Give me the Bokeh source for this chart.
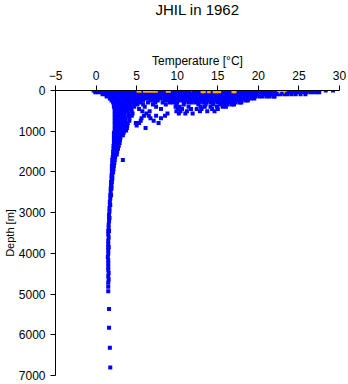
from bokeh.plotting import figure
from bokeh.models import Range1d, FixedTicker, Title
from bokeh.embed import file_html
from bokeh.resources import INLINE

# ---- data ----
title_text = "JHIL in 1962"
x_ticks = [-5, 0, 5, 10, 15, 20, 25, 30]
y_ticks = [0, 1000, 2000, 3000, 4000, 5000, 6000, 7000]

# depth (m) of each row of observations
row_depths = [0, 45, 95, 145, 195, 245, 295, 345, 400, 455, 510, 565, 620, 680,
              740, 800, 860, 920, 980, 1040, 1100, 1160, 1220, 1290, 1360, 1430,
              1500, 1570, 1640, 1710, 1780, 1850, 1930, 2010, 2090, 2170, 2250,
              2330, 2410, 2490, 2570, 2650, 2730, 2810, 2890, 2970, 3050, 3130,
              3210, 3290, 3370, 3450, 3530, 3610, 3690, 3770, 3850, 3930, 4010,
              4090, 4170, 4250, 4330, 4400, 4480, 4560, 4640, 4720, 4820, 4930,
              5365, 5830, 6320, 6805]

# temperatures (°C) observed at each depth row (blue points)
row_temps = [
    [-0.3, 0.1, 0.5, 0.9, 1.4, 1.8, 2.3, 2.7, 3.2, 3.6, 4.1, 4.5, 5.0, 5.4, 5.9, 6.3,
     6.8, 7.2, 7.7, 8.1, 8.6, 9.0, 9.5, 9.9, 10.4, 10.8, 11.3, 12.4, 12.8, 13.3, 13.7,
     14.2, 14.6, 15.1, 15.5, 16.0, 16.4, 16.9, 17.3, 17.8, 18.2, 18.7, 19.1, 19.6, 20.0,
     20.5, 20.9, 21.4, 21.8, 22.3, 22.7, 23.2, 23.6, 24.1, 24.5, 25.0, 25.4, 25.9, 26.3,
     26.8, 27.2, 27.5, 28.3, 29.2],
    [-0.1, 0.3, 0.7, 1.2, 1.6, 2.1, 2.5, 3.0, 3.4, 3.9, 4.3, 4.8, 5.2, 5.7, 6.1, 6.6,
     7.0, 7.5, 7.9, 8.4, 8.8, 9.3, 9.7, 10.2, 10.6, 11.1, 11.5, 12.0, 12.4, 12.9, 13.3,
     13.8, 14.2, 14.7, 15.1, 15.6, 16.0, 16.5, 16.9, 17.4, 17.8, 18.3, 18.7, 19.2, 19.6,
     20.1, 20.5, 21.0, 21.4, 21.9, 22.3, 22.8, 23.2, 23.7, 24.1, 24.6, 25.0, 25.5, 25.9,
     26.4, 26.8, 27.2, 27.5],
    [0.8, 1.2, 1.6, 2.0, 2.5, 2.9, 3.4, 3.8, 4.3, 4.7, 5.2, 5.6, 6.1, 6.5, 7.0, 7.4,
     7.9, 8.3, 8.8, 9.2, 9.7, 10.1, 10.6, 11.0, 11.5, 11.9, 12.4, 12.8, 13.3, 13.7, 14.2,
     14.6, 15.1, 15.5, 16.0, 16.4, 16.9, 17.3, 17.8, 18.2, 18.7, 19.1, 19.6, 20.0, 20.5,
     20.9, 21.4, 21.8, 22.3, 22.7, 23.2, 23.6, 24.1, 24.6, 25.2, 25.8],
    [1.3, 1.7, 2.1, 2.5, 3.0, 3.4, 3.9, 4.3, 4.8, 5.2, 5.7, 6.1, 6.6, 7.0, 7.5, 7.9,
     8.4, 8.8, 9.3, 9.7, 10.2, 10.6, 11.1, 11.5, 12.0, 12.4, 12.9, 13.3, 13.8, 14.2, 14.7,
     15.1, 15.6, 16.0, 16.5, 16.9, 17.4, 17.8, 18.3, 18.7, 19.2, 19.6, 20.1, 20.5, 21.0,
     21.4, 21.9, 22.0],
    [1.7, 2.1, 2.5, 2.9, 3.4, 3.8, 4.3, 4.7, 5.2, 5.6, 6.1, 6.5, 7.0, 7.4, 7.9, 8.3,
     8.8, 9.2, 9.7, 10.1, 10.6, 11.0, 11.5, 11.9, 12.4, 12.8, 13.3, 13.7, 14.2, 14.6, 15.1,
     15.5, 16.0, 16.4, 16.9, 17.3, 17.8, 18.2, 18.7, 19.1, 19.5],
    [1.9, 2.3, 2.7, 3.1, 3.6, 4.0, 4.5, 4.9, 5.4, 5.8, 6.7, 7.1, 7.6, 8.5, 8.9, 9.4,
     9.8, 10.3, 10.7, 11.2, 11.6, 12.1, 12.5, 13.0, 13.4, 13.9, 14.3, 14.8, 15.2, 15.7,
     16.1, 16.6, 17.0, 17.5, 17.9, 18.4, 18.7],
    [2.1, 2.5, 2.9, 3.3, 3.7, 4.1, 4.6, 5.0, 5.5, 6.4, 7.3, 8.2, 9.1, 9.5, 10.0, 10.9,
     11.4, 11.8, 12.3, 12.7, 13.2, 13.6, 14.1, 14.5, 15.0, 15.4, 15.9, 16.3, 16.8, 17.2,
     17.7, 17.9],
    [2.2, 2.6, 3.0, 3.4, 3.8, 4.2, 4.7, 5.1, 5.8, 7.0, 8.6, 9.9, 10.8, 12.6, 13.5, 14.4,
     15.3, 15.8, 16.2, 16.7, 17.0],
    [2.2, 2.6, 3.0, 3.4, 3.8, 4.2, 4.7, 6.0, 7.4, 9.8, 10.3, 11.4, 12.9, 13.4, 14.1,
     14.9, 15.6, 16.0],
    [2.3, 2.7, 3.1, 3.5, 3.9, 4.3, 5.3, 8.0, 10.1, 10.6, 11.7, 12.4, 13.0, 14.3, 15.0],
    [2.3, 2.7, 3.1, 3.5, 3.9, 4.4, 5.7, 6.6, 9.9, 10.4, 11.2, 12.8, 13.7, 14.6],
    [2.3, 2.7, 3.1, 3.5, 4.0, 4.5, 6.2, 8.8, 10.2, 11.0, 11.9],
    [2.3, 2.7, 3.1, 3.5, 4.0, 4.4, 5.9, 6.5, 7.4, 8.5],
    [2.3, 2.7, 3.2, 3.6, 4.1, 5.6, 6.7, 8.0],
    [2.3, 2.7, 3.2, 3.6, 4.1, 5.5, 7.1],
    [2.3, 2.7, 3.1, 3.5, 3.9, 4.9, 5.3, 7.7],
    [2.3, 2.7, 3.1, 3.5, 3.85, 5.0],
    [2.3, 2.7, 3.1, 3.5, 3.8, 6.1],
    [2.3, 2.7, 3.1, 3.5, 3.7],
    [2.2, 2.6, 3.0, 3.4],
    [2.2, 2.6, 3.0, 3.3],
    [2.2, 2.6, 3.0],
    [2.2, 2.6, 2.95],
    [2.2, 2.55, 2.9],
    [2.15, 2.5, 2.8],
    [2.15, 2.5, 2.7],
    [2.1, 2.4, 2.6],
    [2.1, 2.4, 2.55],
    [2.05, 2.35],
    [2.0, 2.3, 3.3],
    [2.0, 2.25],
    [1.95, 2.2],
    [1.95, 2.15],
    [1.95, 2.1],
    [1.9, 2.0],
    [1.9, 2.0],
    [1.85, 1.95],
    [1.85, 1.9],
    [1.8, 1.9],
    [1.8],
    [1.75, 1.85],
    [1.75],
    [1.7],
    [1.7, 1.75],
    [1.65],
    [1.65],
    [1.6],
    [1.6, 1.65],
    [1.6],
    [1.55],
    [1.55],
    [1.5, 1.6],
    [1.5],
    [1.55],
    [1.5],
    [1.5],
    [1.5, 1.55],
    [1.5],
    [1.5],
    [1.45],
    [1.5],
    [1.5],
    [1.5],
    [1.5],
    [1.55],
    [1.5],
    [1.55],
    [1.5],
    [1.5],
    [1.5],
    [1.6],
    [1.6],
    [1.7],
    [1.75],
]

# orange (flagged) surface observations, in three marker groups
orange_dash_temp = [5.3, 6.1, 6.7, 7.3, 8.9]
orange_dash_depth = [30, 30, 30, 30, 30]
orange_sq_temp = [13.1, 13.3, 13.9, 14.6, 14.8, 15.2, 16.9, 17.1]
orange_sq_depth = [25, 25, 25, 25, 25, 25, 25, 25]
orange_cross_temp = [22.6, 23.2]
orange_cross_depth = [20, 20]

blue_temp = []
blue_depth = []
for d, temps in zip(row_depths, row_temps):
    for t in temps:
        blue_temp.append(t)
        blue_depth.append(d)

FONT = "Liberation Sans"
ORANGE = "#ffa500"

p = figure(width=348, height=384, x_range=Range1d(-5, 30), y_range=Range1d(7000, 0),
           x_axis_location="above", output_backend="svg", toolbar_location=None,
           title=title_text)
p.min_border_left = 54
p.min_border_right = 9
p.min_border_top = 90
p.min_border_bottom = 9
p.outline_line_color = None
p.xgrid.visible = False
p.ygrid.visible = False
p.background_fill_color = "white"
p.border_fill_color = "white"

p.title.align = "center"
p.title.vertical_align = "top"
p.title.text_font = FONT
p.title.text_font_size = "15px"
p.title.text_font_style = "normal"
p.title.text_color = "black"
p.title.standoff = 0

# blank spacer between the title and the top axis
p.add_layout(Title(text=" ", text_font_size="10px", standoff=18), "above")

for ax in (p.xaxis[0], p.yaxis[0]):
    ax.major_tick_in = 0
    ax.major_tick_out = 5
    ax.minor_tick_line_color = None
    ax.axis_line_color = "black"
    ax.major_tick_line_color = "black"
    ax.major_label_text_font = FONT
    ax.major_label_text_font_size = "12px"
    ax.major_label_text_color = "black"
    ax.axis_label_text_font = FONT
    ax.axis_label_text_font_style = "normal"
    ax.axis_label_text_color = "black"

p.xaxis.ticker = FixedTicker(ticks=x_ticks)
p.yaxis.ticker = FixedTicker(ticks=y_ticks)
p.xaxis.axis_label = "Temperature [°C]"
p.yaxis.axis_label = "Depth [m]"
p.xaxis.axis_label_text_font_size = "12px"
p.yaxis.axis_label_text_font_size = "11px"
p.xaxis.major_label_standoff = 6
p.yaxis.major_label_standoff = 5
p.xaxis.axis_label_standoff = 0
p.yaxis.axis_label_standoff = 0

p.scatter(blue_temp, blue_depth, marker="square", size=4,
          fill_color="#0000ff", line_color=None)
p.scatter(orange_dash_temp, orange_dash_depth, marker="dash", size=5,
          line_color=ORANGE, line_width=2)
p.scatter(orange_sq_temp, orange_sq_depth, marker="square", size=3.5,
          fill_color=ORANGE, line_color=None)
p.scatter(orange_cross_temp, orange_cross_depth, marker="cross", size=4.5,
          line_color=ORANGE, line_width=1.5)

open("out.html", "w").write(file_html(p, INLINE))
